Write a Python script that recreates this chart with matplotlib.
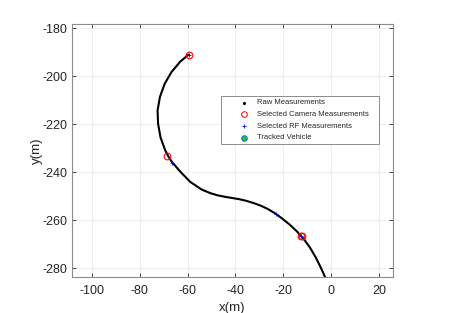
import matplotlib
matplotlib.use("Agg")
import matplotlib.pyplot as plt
from matplotlib.patches import Rectangle

plt.rcParams['font.family'] = ['Liberation Sans', 'DejaVu Sans']
plt.rcParams['axes.unicode_minus'] = False

traj_x = [-59.4, -63.05, -66.7, -69.55, -71.5, -72.5, -72.3, -71.3, -69.4, -68.1, -66.6,
          -62.9, -58.9, -54.1, -50.5, -47.5, -44.5, -41.5, -38.5, -35.5, -32.5, -29.5,
          -26.5, -23.5, -20.5, -17.5, -14.5, -11.5, -8.9, -6.5, -4.5, -2.6]
traj_y = [-190.9, -193.95, -198.3, -203.2, -208.6, -214.2, -219.8, -225.4, -230.7, -233.25, -235.6,
          -239.9, -244.0, -247.2, -248.7, -249.6, -250.2, -250.7, -251.2, -251.9, -252.8, -253.9,
          -255.3, -257.1, -259.3, -261.7, -264.5, -267.8, -271.4, -275.5, -279.5, -283.7]

cam_x = [-59.6, -68.4, -12.6, -12.3]
cam_y = [-191.1, -233.1, -266.6, -266.4]

rf_x = [-59.6, -66.5, -23.3, -12.5]
rf_y = [-191.1, -236.0, -257.4, -266.7]

legend_labels = ['Raw Measurements', 'Selected Camera Measurements',
                 'Selected RF Measurements', 'Tracked Vehicle']

W, H = 450, 313
fig = plt.figure(figsize=(4.5, 3.13), dpi=100)
ax = fig.add_axes([72/W, 1-277/H, (393-72)/W, (277-24)/H])

ax.plot(traj_x, traj_y, '-', color='black', lw=1.5, zorder=2,
        solid_joinstyle='round', solid_capstyle='butt')
ax.plot(cam_x, cam_y, 'o', mfc='none', mec='red', ms=4.8, mew=0.8, zorder=3)
ax.plot(rf_x, rf_y, '+', color='blue', ms=3.2, mew=0.6, zorder=4)

ax.set_xlim(-108.2, 25.7)
ax.set_ylim(-283.6, -178.3)
ax.set_xticks([-100, -80, -60, -40, -20, 0, 20])
ax.set_yticks([-280, -260, -240, -220, -200, -180])
ax.grid(True, color='#ebebeb', lw=0.6)
ax.set_axisbelow(True)
ax.tick_params(direction='in', length=3, width=0.6, colors='#262626', labelsize=9,
               top=True, right=True)
ax.tick_params(axis='x', pad=6)
ax.tick_params(axis='y', pad=3)
for s in ax.spines.values():
    s.set_color('#8c8c8c')
    s.set_linewidth(0.8)
ax.set_xlabel('x(m)', fontsize=9.5, color='#262626', labelpad=3)
ax.set_ylabel('y(m)', fontsize=9.5, color='#262626', labelpad=0)

# legend drawn manually (pixel positions, origin top-left)
def fx(px):
    return px / W

def fy(py):
    return 1 - py / H

fig.patches.append(Rectangle((fx(221.3), fy(144.3)), fx(379.3) - fx(221.3), fy(95.7) - fy(144.3),
                             transform=fig.transFigure, facecolor='white',
                             edgecolor='#8c8c8c', lw=0.7, zorder=5))
rows = [102.7, 114.3, 126.0, 137.6]
mx, tx = 244.0, 257.0
styles = [
    dict(marker='.', color='black', ms=2.5),
    dict(marker='o', mfc='none', mec='red', ms=4, mew=0.7),
    dict(marker='+', color='blue', ms=3.5, mew=0.6),
    dict(marker='o', mfc='#00dd00', mec='#3355ff', ms=4, mew=0.7),
]
for lab, st, r in zip(legend_labels, styles, rows):
    fig.add_artist(plt.Line2D([fx(mx)], [fy(r)], ls='none', transform=fig.transFigure,
                              zorder=6, **st))
    fig.text(fx(tx), fy(r), lab, fontsize=5.5, color='#262626', va='center', ha='left',
             zorder=6)

fig.savefig('out.png', dpi=100)
